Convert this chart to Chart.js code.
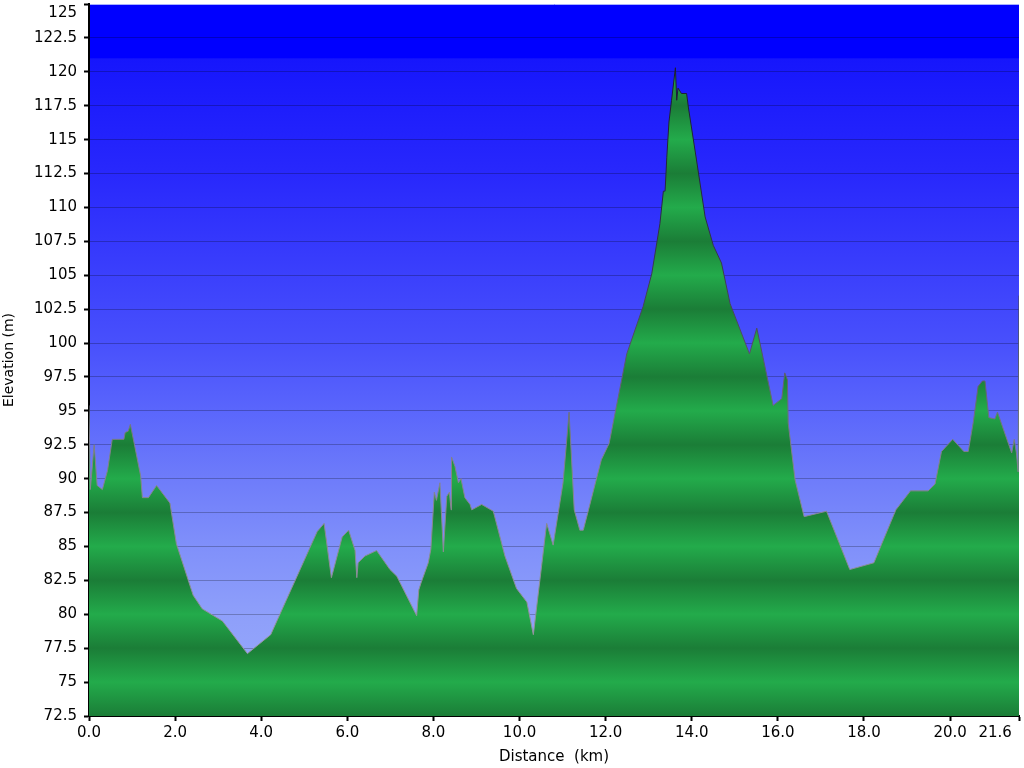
<!DOCTYPE html>
<html lang="en">
<head>
    <meta charset="UTF-8">
    <title>Elevation profile</title>
    <script src="https://cdn.jsdelivr.net/npm/chart.js@4.4.0/dist/chart.umd.min.js"></script>
    <style>
        body { margin: 0; background: #fff; }
        #profile { display: block; }
    </style>
</head>
<body>
    <canvas id="profile" width="1024" height="768"></canvas>

    <script>
        // distance along the route (km)
        const distanceKm = [
            0.00, 0.03, 0.12, 0.19, 0.31, 0.43, 0.54, 0.81, 0.84, 0.91,
            0.96, 1.05, 1.20, 1.24, 1.38, 1.57, 1.88, 2.03, 2.42, 2.63,
            3.10, 3.68, 4.22, 5.30, 5.46, 5.63, 5.88, 6.03, 6.18, 6.22,
            6.25, 6.41, 6.68, 6.99, 7.15, 7.61, 7.66, 7.71, 7.88, 7.94,
            8.02, 8.07, 8.15, 8.23, 8.31, 8.37, 8.41, 8.42, 8.50, 8.58,
            8.64, 8.73, 8.85, 8.89, 9.12, 9.39, 9.66, 9.93, 10.17, 10.32,
            10.63, 10.78, 11.01, 11.15, 11.27, 11.40, 11.48, 11.90, 12.08, 12.49,
            12.87, 13.07, 13.26, 13.34, 13.38, 13.42, 13.47, 13.53, 13.62, 13.65,
            13.68, 13.76, 13.88, 13.92, 14.11, 14.31, 14.50, 14.69, 14.89, 15.34,
            15.51, 15.89, 16.09, 16.16, 16.22, 16.24, 16.40, 16.61, 17.13, 17.67,
            18.23, 18.74, 19.08, 19.49, 19.65, 19.80, 20.06, 20.32, 20.42, 20.54,
            20.65, 20.75, 20.81, 20.90, 21.04, 21.10, 21.43, 21.49, 21.54, 21.58,
            21.60
        ];

        // elevation (m)
        const elevationM = [
            95.4, 89.2, 92.5, 89.5, 89.2, 90.6, 92.9, 92.9, 93.4, 93.5,
            94.0, 92.6, 90.2, 88.6, 88.6, 89.5, 88.2, 85.2, 81.4, 80.4,
            79.5, 77.1, 78.5, 86.1, 86.7, 82.7, 85.7, 86.2, 84.7, 82.7,
            83.8, 84.3, 84.7, 83.3, 82.8, 79.9, 81.8, 82.3, 83.8, 84.8,
            89.0, 88.4, 89.7, 84.6, 88.7, 89.0, 87.7, 91.6, 90.9, 89.7,
            90.0, 88.6, 88.1, 87.7, 88.1, 87.6, 84.3, 81.9, 80.9, 78.5,
            86.7, 85.1, 89.7, 94.9, 87.7, 86.2, 86.2, 91.4, 92.6, 99.2,
            102.7, 105.1, 108.8, 111.2, 111.2, 113.7, 116.3, 117.9, 120.3, 117.9,
            118.8, 118.4, 118.4, 117.4, 113.5, 109.3, 107.2, 105.9, 102.9, 99.2,
            101.1, 95.4, 95.9, 97.8, 97.3, 94.1, 89.9, 87.2, 87.6, 83.3,
            83.8, 87.7, 89.1, 89.1, 89.6, 92.0, 92.9, 92.0, 92.0, 94.2,
            96.8, 97.2, 97.2, 94.5, 94.4, 94.9, 91.9, 92.9, 91.9, 90.5,
            103.5
        ];

        const xTicks = [0, 2, 4, 6, 8, 10, 12, 14, 16, 18, 20, 21.6];
        const yTicks = [72.5, 75, 77.5, 80, 82.5, 85, 87.5, 90, 92.5, 95, 97.5, 100,
                        102.5, 105, 107.5, 110, 112.5, 115, 117.5, 120, 122.5, 125];

        const FONT = 'DejaVu Sans';

        // sky colours, keyed by elevation
        const skyStops = [
            [125, '#0000ff'], [121.05, '#0000ff'], [120.95, '#1616fc'],
            [112.5, '#2828fc'], [100, '#4850fc'], [95, '#5a66fc'],
            [90, '#6e7cfa'], [85, '#8090fa'], [80, '#8e9ffa'], [72.5, '#9aacfc']
        ];

        const skyPlugin = {
            id: 'sky',
            beforeDraw(chart) {
                const { ctx, chartArea: a, scales: { y } } = chart;
                const g = ctx.createLinearGradient(0, a.top, 0, a.bottom);
                skyStops.forEach(([v, c]) => {
                    const t = (y.getPixelForValue(v) - a.top) / (a.bottom - a.top);
                    g.addColorStop(Math.min(1, Math.max(0, t)), c);
                });
                ctx.save();
                ctx.fillStyle = g;
                ctx.fillRect(a.left, a.top, a.right - a.left, a.bottom - a.top);
                ctx.restore();
            }
        };

        // green stripes: light at every 5 m, dark in between
        function groundFill(context) {
            const chart = context.chart;
            const a = chart.chartArea;
            if (!a) return '#23ab4b';
            const y = chart.scales.y;
            const g = chart.ctx.createLinearGradient(0, a.top, 0, a.bottom);
            yTicks.forEach(v => {
                const t = (y.getPixelForValue(v) - a.top) / (a.bottom - a.top);
                const light = Math.round(v / 2.5) % 2 === 0;
                g.addColorStop(Math.min(1, Math.max(0, t)), light ? '#23ab4b' : '#1b7d37');
            });
            return g;
        }

        function outlineColor(context) {
            const chart = context.chart;
            const a = chart.chartArea;
            if (!a) return '#777';
            const y = chart.scales.y;
            const g = chart.ctx.createLinearGradient(0, a.top, 0, a.bottom);
            const stops = [[125, '#15152a'], [110, '#2a2a40'], [100, '#50505e'], [92, '#80808a'], [72.5, '#9c9ca4']];
            stops.forEach(([v, c]) => g.addColorStop((y.getPixelForValue(v) - a.top) / (a.bottom - a.top), c));
            return g;
        }

        new Chart(document.getElementById('profile'), {
            type: 'line',
            data: {
                datasets: [{
                    data: distanceKm.map((d, i) => ({ x: d, y: elevationM[i] })),
                    fill: 'start',
                    backgroundColor: groundFill,
                    borderColor: outlineColor,
                    borderWidth: 1,
                    pointRadius: 0,
                    tension: 0
                }]
            },
            options: {
                responsive: false,
                animation: false,
                events: [],
                layout: { padding: { top: 4, right: 5, left: 0, bottom: 0 }, autoPadding: false },
                plugins: { legend: { display: false }, tooltip: { enabled: false } },
                scales: {
                    x: {
                        type: 'linear',
                        min: 0,
                        max: 21.6,
                        afterBuildTicks: s => { s.ticks = xTicks.map(v => ({ value: v })); },
                        afterFit: s => {
                            s.height = 52;
                            s.paddingLeft = 0; s.paddingRight = 0;
                        },
                        ticks: {
                            color: '#000',
                            font: { family: FONT, size: 15 },
                            padding: 3,
                            maxRotation: 0,
                            autoSkip: false,
                            // last label pushed left so it stays on the canvas
                            callback: v => v === 21.6 ? v.toFixed(1) + '\u2007'.repeat(5) : v.toFixed(1)
                        },
                        grid: { drawOnChartArea: false, tickLength: 5, tickColor: '#000', tickWidth: 2 },
                        border: { color: '#000', width: 2 },
                        title: {
                            display: true,
                            text: 'Distance  (km)',
                            color: '#000',
                            font: { family: FONT, size: 15 },
                            padding: { top: 0, bottom: 2 }
                        }
                    },
                    y: {
                        min: 72.5,
                        max: 125,
                        z: 1,
                        afterBuildTicks: s => { s.ticks = yTicks.map(v => ({ value: v })); },
                        afterFit: s => {
                            s.width = 89;
                            s.paddingTop = 0; s.paddingBottom = 0;
                        },
                        ticks: {
                            color: '#000',
                            font: { family: FONT, size: 15 },
                            padding: 7,
                            autoSkip: false,
                            callback: v => v === 125 ? ['', '125'] : String(v)
                        },
                        grid: {
                            color: c => c.tick && c.tick.value === 125 ? '#a8b0ff' : 'rgba(0,0,0,0.24)',
                            lineWidth: 1,
                            tickLength: 5,
                            tickColor: '#000',
                            tickWidth: 2
                        },
                        border: { color: '#000', width: 2 },
                        title: {
                            display: true,
                            text: 'Elevation (m)',
                            color: '#000',
                            font: { family: FONT, size: 14 },
                            padding: { top: 1, bottom: 0 }
                        }
                    }
                }
            },
            plugins: [skyPlugin]
        });
    </script>
</body>
</html>
